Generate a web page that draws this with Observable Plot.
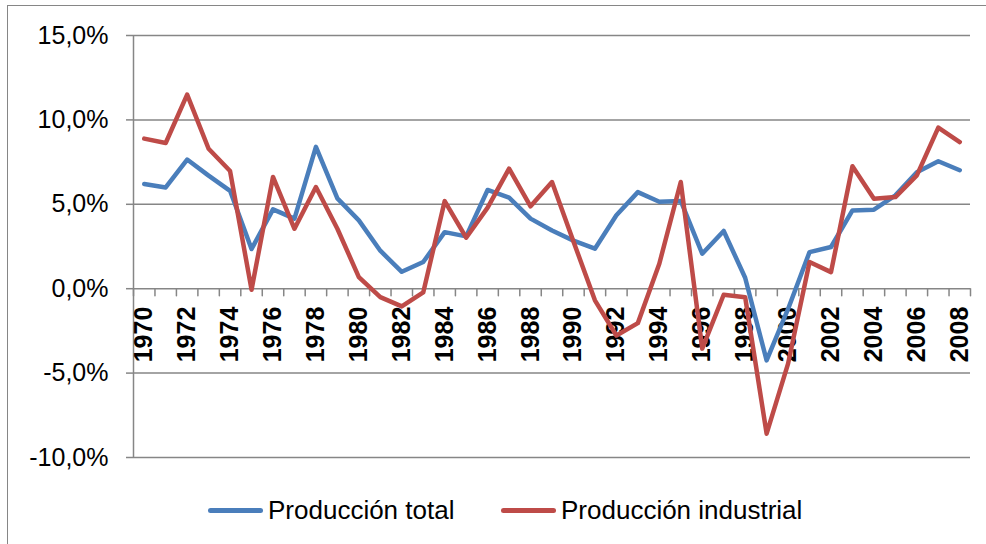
<!DOCTYPE html>
<html><head><meta charset="utf-8">
<script src="https://cdn.jsdelivr.net/npm/d3@7"></script>
<script src="https://cdn.jsdelivr.net/npm/@observablehq/plot@0.6"></script>
<style>
body{margin:0;background:#fff;font-family:"Liberation Sans",Arial,sans-serif;}
#wrap{position:relative;width:986px;height:544px;overflow:hidden;background:#fff;}
#border{position:absolute;left:7px;top:5px;width:1000px;height:600px;border:1.5px solid #868686;}
#chart{position:absolute;left:0;top:0;}
#legend{position:absolute;left:0;top:480px;width:986px;height:64px;}
.item{position:absolute;top:15px;height:30px;display:flex;align-items:center;font-size:26px;color:#000;white-space:nowrap;}
.sw{width:55px;height:5px;border-radius:3px;margin-right:5px;}
</style></head><body>
<div id="wrap"><div id="border"></div><div id="chart"></div><div id="legend"></div></div>
<script>
const years = [1970,1971,1972,1973,1974,1975,1976,1977,1978,1979,1980,1981,1982,1983,1984,1985,1986,1987,1988,1989,1990,1991,1992,1993,1994,1995,1996,1997,1998,1999,2000,2001,2002,2003,2004,2005,2006,2007,2008];
const seriesNames = ["Producción total", "Producción industrial"];
const total = [6.2, 6.0, 7.65, 6.7, 5.8, 2.35, 4.7, 4.15, 8.4, 5.35, 4.05, 2.25, 1.0, 1.58, 3.35, 3.1, 5.85, 5.4, 4.15, 3.45, 2.85, 2.37, 4.35, 5.72, 5.15, 5.2, 2.07, 3.42, 0.65, -4.25, -1.2, 2.17, 2.47, 4.64, 4.68, 5.53, 6.9, 7.55, 7.02];
const industrial = [8.89, 8.63, 11.5, 8.29, 6.97, -0.06, 6.62, 3.55, 6.02, 3.55, 0.69, -0.5, -1.05, -0.22, 5.19, 3.02, 4.8, 7.11, 4.88, 6.32, 2.8, -0.69, -2.77, -2.04, 1.48, 6.32, -3.55, -0.36, -0.5, -8.59, -4.44, 1.58, 0.98, 7.25, 5.33, 5.43, 6.71, 9.54, 8.69];
const yTicks = [-10, -5, 0, 5, 10, 15];
const colors = ["#4A7EBB", "#BE4B48"];

const rows = [];
seriesNames.forEach((s, k) => {
  const vals = k === 0 ? total : industrial;
  years.forEach((yr, i) => rows.push({year: yr, v: vals[i], s}));
});
const xDomain = [years[0] - 0.5, years[years.length - 1] + 0.5];
const boundaries = years.map(y => y - 0.5).concat([years[years.length - 1] + 0.5]);
const labelYears = years.filter(y => y % 2 === 0);
const fmt = d => d.toFixed(1).replace(".", ",") + "%";
const tickShape = {draw(ctx, l) { ctx.moveTo(0, 0); ctx.lineTo(0, -l); }};

const chart = Plot.plot({
  width: 986, height: 480,
  marginLeft: 133, marginRight: 16, marginTop: 35, marginBottom: 23,
  x: {domain: xDomain, axis: null},
  y: {domain: [-10, 15], axis: null},
  color: {domain: seriesNames, range: colors},
  style: {fontFamily: "'Liberation Sans', Arial, sans-serif", background: "transparent"},
  marks: [
    Plot.gridY(yTicks, {stroke: "#868686", strokeOpacity: 1, strokeWidth: 1.5}),
    Plot.axisY(yTicks, {label: null, tickSize: 7, tickPadding: 18, tickFormat: fmt, fontSize: 25, stroke: "#868686", strokeWidth: 1.5, strokeOpacity: 1, fill: "#000"}),
    Plot.ruleX([xDomain[0]], {stroke: "#868686", strokeWidth: 1.5}),
    Plot.vector(boundaries, {x: d => d, y: () => 0, length: 7, rotate: 180, anchor: "start", shape: tickShape, stroke: "#868686", strokeWidth: 1.5}),
    Plot.text(labelYears, {x: d => d, y: () => 0, text: d => String(d), rotate: -90, textAnchor: "end", dy: 18, fontSize: 25, fontWeight: "bold", fill: "#000"}),
    Plot.line(rows, {x: "year", y: "v", z: "s", stroke: "s", strokeWidth: 4.5, strokeLinejoin: "round", strokeLinecap: "round"})
  ]
});
document.getElementById("chart").appendChild(chart);

const legend = document.getElementById("legend");
const lefts = [208, 501];
seriesNames.forEach((s, k) => {
  const it = document.createElement("div");
  it.className = "item";
  it.style.left = lefts[k] + "px";
  const sw = document.createElement("span");
  sw.className = "sw";
  sw.style.background = colors[k];
  const tx = document.createElement("span");
  tx.textContent = s;
  it.appendChild(sw); it.appendChild(tx);
  legend.appendChild(it);
});
</script>
</body></html>
